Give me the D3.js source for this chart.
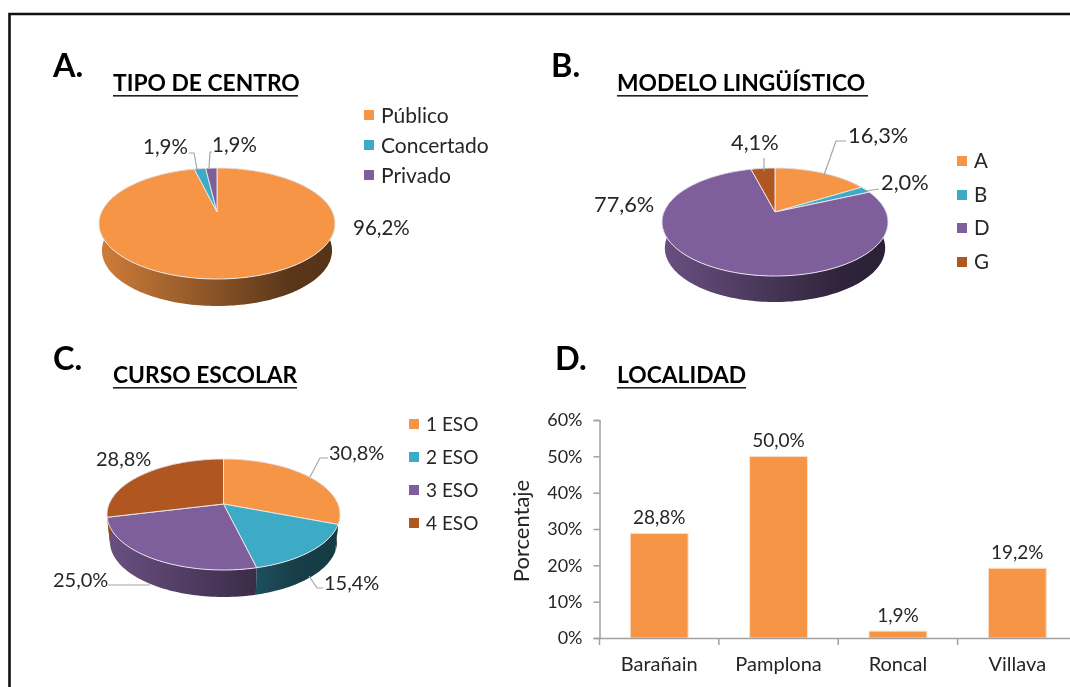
<!DOCTYPE html>
<html><head><meta charset="utf-8">
<script src="https://cdn.jsdelivr.net/npm/d3@7"></script>
<style>html,body{margin:0;padding:0;background:#fff}svg{display:block;filter:blur(.35px)}text{font-family:Lato,"Open Sans",sans-serif;fill:#262626}</style>
</head><body><svg id="c" width="1070" height="687"></svg>
<script>
const centroCats=["Público","Concertado","Privado"];
const centroVals=[96.2,1.9,1.9];
const modeloCats=["A","B","D","G"];
const modeloVals=[16.3,2.0,77.6,4.1];
const cursoCats=["1 ESO","2 ESO","3 ESO","4 ESO"];
const cursoVals=[30.8,15.4,25.0,28.8];
const localCats=["Barañain","Pamplona","Roncal","Villava"];
const localVals=[28.8,50.0,1.9,19.2];
const yTicks=[0,10,20,30,40,50,60];

const ORANGE="#f69545",TEAL="#3eabc6",PURPLE="#7e5f9b",BROWN="#b05721";
const fmt=v=>v.toFixed(1).replace(".",",")+"%";
const svg=d3.select("#c");
const defs=svg.append("defs");
svg.append("path").attr("d","M1070 14H9.5V687").attr("fill","none").attr("stroke","#111").attr("stroke-width",2.6);

let gid=0;
function pie3d(o){
  const g=svg.append("g");
  const near=o.bottom-o.ay, far=o.ay-o.top;
  const r=near/far, k=(r-1)/(r+1), Q=far*(1+k), R=o.rx*Math.sqrt(1-k*k);
  const proj=t=>{const u=Math.sin(t),v=Math.cos(t),w=1+k*v;return [o.ax+R*u/w,o.ay-Q*v/w];};
  const arcs=d3.pie().sort(null).value(d=>d.v)(o.vals.map((v,i)=>({v,i,c:o.colors[i]})));
  const line=d3.line();
  const pts=a=>{const n=Math.max(2,Math.ceil((a.endAngle-a.startAngle)*40));return d3.range(n+1).map(j=>proj(a.startAngle+(a.endAngle-a.startAngle)*j/n));};
  const x0=o.ax-o.rx,x1=o.ax+o.rx;
  arcs.forEach(a=>{
    const id="w"+(gid++);
    const c=d3.rgb(a.data.c);
    const sh=f=>d3.rgb(c.r*f,c.g*f,c.b*f).formatHex();
    const gr=defs.append("linearGradient").attr("id",id).attr("gradientUnits","userSpaceOnUse").attr("x1",x0).attr("x2",x1).attr("y1",0).attr("y2",0);
    [[0,.84],[.5,.55],[.8,.37],[1,.34]].forEach(s=>gr.append("stop").attr("offset",s[0]).attr("stop-color",sh(s[1])));
    const p=pts(a);
    const wall=p.concat(p.slice().reverse().map(q=>[o.ax+(q[0]-o.ax)*.975,q[1]+o.depth]));
    g.append("path").attr("d",line(wall)+"Z").attr("fill",`url(#${id})`);
  });
  arcs.forEach(a=>{
    g.append("path").attr("d",line([[o.ax,o.ay]].concat(pts(a)))+"Z")
     .attr("fill",a.data.c).attr("stroke","#e9e4ea").attr("stroke-width",1).attr("stroke-linejoin","round");
  });
  o.leaders.forEach(l=>svg.append("path").attr("d",line(l)).attr("fill","none").attr("stroke","#a6a6a6").attr("stroke-width",1.2));
  o.labels.forEach((l,i)=>svg.append("text").attr("x",l[0]).attr("y",l[1]).attr("font-size",o.fs).text(fmt(o.vals[i])));
}
function legend(cats,colors,x,ys,fs,dy){
  cats.forEach((c,i)=>{
    svg.append("rect").attr("x",x).attr("y",ys[i]-5).attr("width",10).attr("height",10).attr("fill",colors[i]);
    svg.append("text").attr("x",x+17).attr("y",ys[i]+dy).attr("font-size",fs).text(c);
  });
}
function heading(letter,lx,ly,title,tx,ty,uw){
  svg.append("text").attr("x",lx).attr("y",ly).attr("font-size",32.5).attr("font-weight",700).style("fill","#000").text(letter);
  svg.append("text").attr("x",tx).attr("y",ty).attr("font-size",22.8).attr("font-weight",700).style("fill","#000").text(title);
  svg.append("rect").attr("x",tx).attr("y",ty+4).attr("width",uw).attr("height",1.6).attr("fill","#222");
}

heading("A.",53,77,"TIPO DE CENTRO",113,91,185);
heading("B.",551,77,"MODELO LINGÜÍSTICO",617,91,251);
heading("C.",53,370,"CURSO ESCOLAR",113,383,184);
heading("D.",555,370,"LOCALIDAD",617,383,129);

pie3d({vals:centroVals,colors:[ORANGE,TEAL,PURPLE],ax:217,ay:212,rx:118,top:168,bottom:279,depth:27,fs:20.5,
  leaders:[[[189,153],[194,153],[197,169]],[[212,152],[210,152],[209,168]]],
  labels:[[353,235],[143,154],[212,152]]});
legend(centroCats,[ORANGE,TEAL,PURPLE],364,[115,145,175],21,8);

pie3d({vals:modeloVals,colors:[ORANGE,TEAL,PURPLE,BROWN],ax:775,ay:212,rx:113,top:168,bottom:276,depth:26,fs:21.8,
  leaders:[[[846,141],[836,141],[824,175]],[[879,189],[866,191]],[[764,158],[764,171]]],
  labels:[[848,143],[881,190],[594,212],[731,150]]});
legend(modeloCats,[ORANGE,TEAL,PURPLE,BROWN],957,[161,195,228,262],20.5,7);

pie3d({vals:cursoVals,colors:[ORANGE,TEAL,PURPLE,BROWN],ax:223.5,ay:504,rx:116.5,top:459,bottom:570,depth:27,fs:20,
  leaders:[[[328,458],[320,458],[310,477]],[[323,588],[317,588],[309,576]],[[108,585],[150,585]]],
  labels:[[329,460],[324,590],[53,587],[96,466]]});
legend(cursoCats,[ORANGE,TEAL,PURPLE,BROWN],409,[424,457,490,523],19,7);

// D: bars
const xS=d3.scaleBand().domain(localCats).range([599.5,1077]).paddingInner(.515).paddingOuter(.2575);
const yS=d3.scaleLinear().domain([0,60]).range([638,420]);
svg.selectAll(".bar").data(localVals).join("rect").attr("class","bar")
  .attr("x",(d,i)=>xS(localCats[i])).attr("width",xS.bandwidth())
  .attr("y",d=>yS(d)).attr("height",d=>yS(0)-yS(d)).attr("fill",ORANGE).attr("stroke","#fbe3cf").attr("stroke-width",1);
const gx=svg.append("g").attr("transform","translate(0,638)")
  .call(d3.axisBottom(xS).tickSize(0).tickPadding(19));
gx.select(".domain").attr("stroke","#a0a0a0").attr("stroke-width",1.5);
gx.selectAll("text").attr("font-size",20).style("font-family","Lato");
const step=xS.step();
d3.range(0,4).forEach(i=>svg.append("line").attr("x1",599.5+i*step).attr("x2",599.5+i*step).attr("y1",638).attr("y2",645).attr("stroke","#a0a0a0").attr("stroke-width",1.5));
const gy=svg.append("g").attr("transform","translate(599.5,0)")
  .call(d3.axisLeft(yS).tickValues(yTicks).tickFormat(d=>d+"%").tickSize(6).tickPadding(11));
gy.select(".domain").attr("stroke","#a0a0a0").attr("stroke-width",1.5);
gy.selectAll(".tick line").attr("stroke","#a0a0a0").attr("stroke-width",1.5);
gy.selectAll("text").attr("font-size",18).style("font-family","Lato");
svg.selectAll(".blab").data(localVals).join("text").attr("class","blab")
  .attr("x",(d,i)=>xS(localCats[i])+xS.bandwidth()/2).attr("y",d=>yS(d)-9)
  .attr("text-anchor","middle").attr("font-size",19).text(fmt);
svg.append("text").attr("transform","translate(529,531) rotate(-90)").attr("text-anchor","middle").attr("font-size",22).text("Porcentaje");
</script></body></html>
